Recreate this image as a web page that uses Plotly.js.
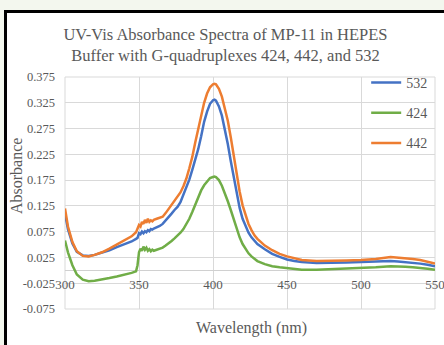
<!DOCTYPE html>
<html>
<head>
<meta charset="utf-8">
<script src="https://cdn.plot.ly/plotly-3.0.1.min.js"></script>
<style>
  html, body { margin: 0; padding: 0; background: #f3f7ee; width: 444px; height: 345px; overflow: hidden; }
  #frame { position: absolute; left: 4px; top: 10px; width: 437px; height: 340px; border-left: 3px solid #000; border-top: 3px solid #000; background: #fff; }
  #chart { width: 437px; height: 332px; }
</style>
</head>
<body>
<div id="frame"><div id="chart"></div></div>
<script>
// Wavelength (nm)
const wavelength = [300,302,305,308,312,316,320,325,330,335,340,345,348,349,350,351,352,353,354,355,356,357,358,359,360,362,364,366,368,370,372,374,376,378,380,382,384,386,388,390,392,394,396,398,400,401,402,404,406,408,410,412,414,416,418,420,422,424,426,428,430,435,440,445,450,455,460,470,480,490,500,510,520,525,530,535,540,545,550];

// Absorbance, G-quadruplex 532
const abs532 = [0.110,0.080,0.052,0.036,0.029,0.028,0.030,0.034,0.039,0.045,0.050,0.056,0.061,0.063,0.072,0.070,0.075,0.072,0.076,0.074,0.078,0.076,0.080,0.079,0.081,0.083,0.086,0.090,0.096,0.102,0.110,0.117,0.123,0.132,0.146,0.159,0.176,0.195,0.214,0.235,0.260,0.288,0.308,0.323,0.330,0.331,0.329,0.318,0.300,0.275,0.245,0.212,0.180,0.148,0.121,0.100,0.085,0.073,0.064,0.057,0.051,0.041,0.032,0.026,0.021,0.018,0.016,0.014,0.014,0.015,0.016,0.017,0.018,0.017,0.016,0.015,0.013,0.011,0.008];

// Absorbance, G-quadruplex 424
const abs424 = [0.058,0.035,0.010,-0.008,-0.018,-0.021,-0.020,-0.018,-0.015,-0.012,-0.009,-0.005,-0.002,0.010,0.035,0.042,0.038,0.046,0.040,0.044,0.038,0.041,0.037,0.040,0.038,0.040,0.041,0.044,0.048,0.052,0.057,0.062,0.067,0.073,0.080,0.089,0.100,0.113,0.127,0.142,0.155,0.165,0.173,0.179,0.181,0.182,0.181,0.175,0.164,0.150,0.134,0.117,0.098,0.080,0.064,0.051,0.041,0.033,0.027,0.022,0.018,0.012,0.008,0.006,0.004,0.002,0.001,0.001,0.002,0.003,0.004,0.006,0.008,0.008,0.007,0.006,0.005,0.003,0.001];

// Absorbance, G-quadruplex 442
const abs442 = [0.120,0.085,0.055,0.037,0.028,0.027,0.030,0.035,0.042,0.050,0.057,0.066,0.074,0.080,0.088,0.085,0.094,0.090,0.098,0.092,0.100,0.094,0.097,0.095,0.098,0.100,0.102,0.104,0.111,0.119,0.126,0.133,0.142,0.151,0.163,0.178,0.198,0.220,0.248,0.276,0.302,0.325,0.343,0.355,0.361,0.362,0.361,0.352,0.337,0.316,0.290,0.258,0.222,0.186,0.153,0.126,0.106,0.090,0.078,0.068,0.061,0.048,0.039,0.032,0.027,0.023,0.020,0.018,0.018,0.019,0.020,0.022,0.026,0.025,0.024,0.022,0.020,0.017,0.013];

const seriesNames = ['532', '424', '442'];

const xTickVals = [300, 350, 400, 450, 500, 550];
const xTickText = ['300', '350', '400', '450', '500', '550'];
const yTickVals = [-0.075, -0.025, 0.025, 0.075, 0.125, 0.175, 0.225, 0.275, 0.325, 0.375];
const yTickText = ['-0.075', '-0.025', '0.025', '0.075', '0.125', '0.175', '0.225', '0.275', '0.325', '0.375'];

const colors = ['#4472C4', '#70AD47', '#ED7D31'];
const seriesData = [abs532, abs424, abs442];

const font = 'Liberation Serif, Times New Roman, serif';
const grey = '#595959';

const traces = seriesData.map((ys, i) => ({
  x: wavelength, y: ys, type: 'scatter', mode: 'lines',
  name: seriesNames[i], legendgroup: 'g' + i,
  line: { color: colors[i], width: 2.5 }
}));

const layout = {
  width: 437, height: 332,
  margin: { l: 58, r: 9, t: 64, b: 36 },
  paper_bgcolor: '#ffffff', plot_bgcolor: '#ffffff',
  font: { family: font, color: grey, size: 13 },
  title: {
    text: 'UV-Vis Absorbance Spectra of MP-11 in HEPES<br>Buffer with G-quadruplexes 424, 442, and 532',
    font: { family: font, size: 16.5, color: grey },
    x: 0.5, xref: 'container', y: 0.9187, yref: 'container', yanchor: 'middle'
  },
  xaxis: {
    range: [300, 550], tickmode: 'array', tickvals: xTickVals, ticktext: xTickText,
    showgrid: true, gridcolor: '#d9d9d9', gridwidth: 1,
    zeroline: false, showline: false, ticks: '',
    anchor: 'free', position: 0.075 / 0.45,
    tickfont: { family: font, size: 13, color: grey },
    ticklabelstandoff: 5, ticklabeloverflow: 'allow'
  },
  yaxis: {
    range: [-0.075, 0.375], tickmode: 'array', tickvals: yTickVals, ticktext: yTickText,
    showgrid: true, gridcolor: '#d9d9d9', gridwidth: 1,
    zeroline: true, zerolinecolor: '#d0d0d0', zerolinewidth: 1,
    showline: false, ticks: '',
    tickfont: { family: font, size: 12.5, color: grey },
    ticklabelstandoff: 9
  },
  legend: {
    x: 0.814, y: 1.043, xanchor: 'left', yanchor: 'top',
    bgcolor: 'rgba(0,0,0,0)', font: { family: font, size: 14, color: grey },
    tracegroupgap: 9
  },
  shapes: [
    { type: 'rect', xref: 'paper', yref: 'paper', x0: 0, x1: 1, y0: 0, y1: 1,
      line: { color: '#d9d9d9', width: 1 }, layer: 'below' }
  ],
  annotations: [
    { text: 'Absorbance', xref: 'paper', yref: 'paper', x: -0.131, y: 0.571,
      xanchor: 'center', yanchor: 'middle',
      textangle: -90, showarrow: false, font: { family: font, size: 16, color: grey } },
    { text: 'Wavelength (nm)', xref: 'paper', yref: 'paper', x: 0.505, y: -0.082,
      xanchor: 'center', yanchor: 'middle',
      showarrow: false, font: { family: font, size: 16, color: grey } }
  ],
  showlegend: true
};

Plotly.newPlot('chart', traces, layout, { displayModeBar: false, staticPlot: true });
</script>
</body>
</html>
